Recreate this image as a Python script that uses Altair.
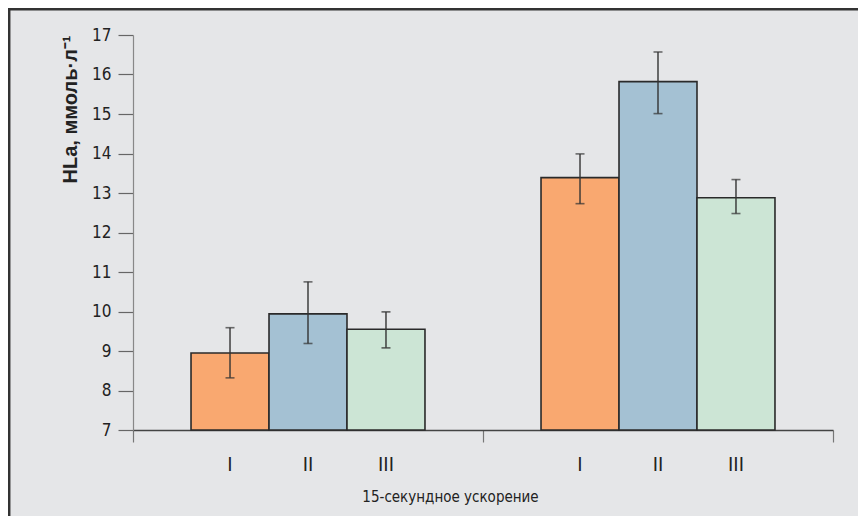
import altair as alt
import pandas as pd

groups = ["g1", "g1", "g1", "g2", "g2", "g2"]
series = ["I", "II", "III", "I", "II", "III"]
means = [8.95, 9.94, 9.55, 13.39, 15.82, 12.88]
upper = [9.59, 10.75, 9.99, 13.99, 16.57, 13.34]
lower = [8.32, 9.19, 9.08, 12.73, 15.01, 12.48]
colors = ["#f9a870", "#a4c1d3", "#cce5d5"]
y_ticks = [7, 8, 9, 10, 11, 12, 13, 14, 15, 16, 17]

df = pd.DataFrame({"group": groups, "series": series, "mean": means,
                   "upper": upper, "lower": lower})

FONT = "Liberation Sans Narrow, DejaVu Sans Condensed, sans-serif"

x = alt.X("group:N", scale=alt.Scale(paddingInner=0, paddingOuter=0),
          axis=alt.Axis(labels=False, tickBand="extent", tickSize=12,
                        tickColor="#777", tickWidth=1.2, domainColor="#444",
                        domainWidth=1.5, title="15-секундное ускорение",
                        titleX=317, titleY=66, titleAlign="center",
                        titleBaseline="middle", titleFont=FONT, titleFontSize=15,
                        titleFontWeight="normal", titleColor="#222"))
xo = alt.XOffset("series:N", scale=alt.Scale(paddingInner=0, paddingOuter=0.744))
yscale = alt.Scale(domain=[7, 17], nice=False, zero=False)
yaxis = alt.Axis(values=y_ticks, tickCount=11, tickSize=15, tickColor="#666",
                 tickWidth=1.2, domainColor="#888", domainWidth=1.2,
                 labelFont=FONT, labelFontSize=17, labelColor="#222",
                 labelPadding=7, labelOverlap=False, grid=False,
                 title="HLa, ммоль·л⁻¹", titleFont="Liberation Sans, Arial, sans-serif",
                 titleFontSize=20, titleFontWeight="bold", titleColor="#222",
                 titleAnchor="end", titleAngle=-90, titleX=-57, titleY=0,
                 titleAlign="right", titleBaseline="alphabetic")

base = alt.Chart(df)

bars = base.mark_bar(stroke="#2a2a2a", strokeWidth=1.6).encode(
    x=x, xOffset=xo,
    y=alt.Y("mean:Q", scale=yscale, axis=yaxis),
    y2=alt.datum(7),
    color=alt.Color("series:N", scale=alt.Scale(domain=["I", "II", "III"], range=colors),
                    legend=None),
)

err = base.mark_rule(color="#333", strokeWidth=1.4).encode(
    x=x, xOffset=xo, y=alt.Y("lower:Q", scale=yscale, axis=yaxis), y2="upper:Q")
cap_hi = base.mark_tick(color="#333", thickness=1.6, size=9).encode(
    x=x, xOffset=xo, y=alt.Y("upper:Q", scale=yscale, axis=yaxis))
cap_lo = base.mark_tick(color="#333", thickness=1.6, size=9).encode(
    x=x, xOffset=xo, y=alt.Y("lower:Q", scale=yscale, axis=yaxis))

labels = base.mark_text(font=FONT, fontSize=20, color="#222", baseline="middle").encode(
    x=x, xOffset=xo, y=alt.value(430), text="series:N")

border_data = alt.Data(values=[{"k": 1}])
left_border = alt.Chart(border_data).mark_rule(color="#333", strokeWidth=2.5).encode(
    x=alt.value(-123.8), y=alt.value(-27), y2=alt.value(600))
top_border = alt.Chart(border_data).mark_rule(color="#333", strokeWidth=2.5).encode(
    y=alt.value(-25.8), x=alt.value(-125), x2=alt.value(900))

chart = alt.layer(bars, err, cap_hi, cap_lo, labels, left_border, top_border).properties(
    width=700, height=395,
    autosize=alt.AutoSizeParams(type="none"),
    padding={"left": 125, "top": 27, "right": 25, "bottom": 86},
    background="#e5e6e8",
).configure_view(stroke=None)

chart.save("out.html", embed_options={"renderer": "svg", "actions": False})
